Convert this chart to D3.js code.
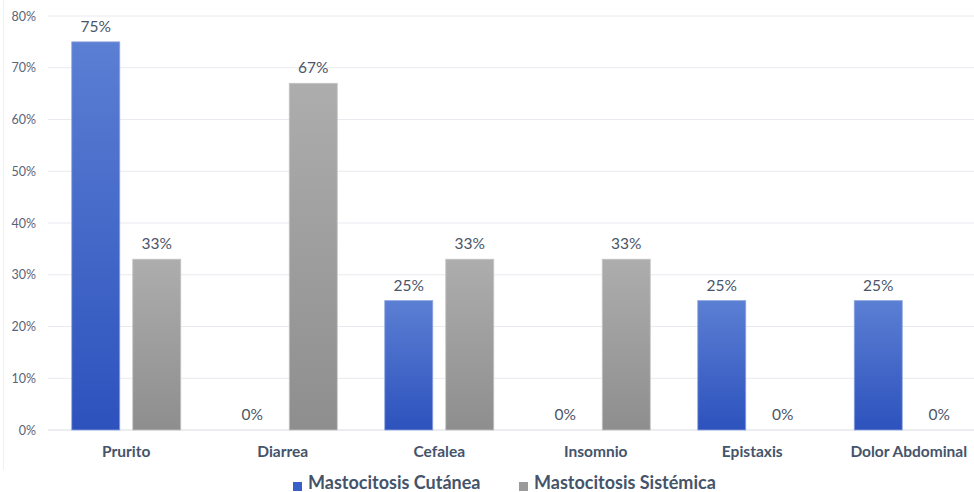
<!DOCTYPE html>
<html>
<head>
<meta charset="utf-8">
<script src="https://cdn.jsdelivr.net/npm/d3@7"></script>
<style>
  html, body { margin: 0; padding: 0; background: #fff; }
  svg { display: block; font-family: Lato, "Open Sans", sans-serif; }
</style>
</head>
<body>
<svg id="chart" width="974" height="492"></svg>
<script>
const categories = ["Prurito", "Diarrea", "Cefalea", "Insomnio", "Epistaxis", "Dolor Abdominal"];
const seriesNames = ["Mastocitosis Cutánea", "Mastocitosis Sistémica"];
const cutanea = [75, 0, 25, 0, 25, 25];
const sistemica = [33, 67, 33, 33, 0, 0];
const yTicks = [0, 10, 20, 30, 40, 50, 60, 70, 80];

(function () {
  const series = [cutanea, sistemica];
  const rows = categories.map((c, i) => ({ cat: c, values: series.map((s, k) => ({ key: k, v: s[i] })) }));

  const svg = d3.select("#chart");
  const plotLeft = 48, plotRight = 987, plotTop = 16, plotBottom = 430;

  const x0 = d3.scaleBand().domain(categories).range([plotLeft, plotRight]).paddingInner(0.3035).paddingOuter(0.15175);
  const x1 = d3.scaleBand().domain([0, 1]).range([0, x0.bandwidth()]).paddingInner(0.213).paddingOuter(0);
  const y = d3.scaleLinear().domain([0, 80]).range([plotBottom, plotTop]);

  // vertical gradients for the bar fills
  const defs = svg.append("defs");
  const grads = [
    { id: "gBlue", c0: "#5b7fd3", c1: "#2d52bd" },
    { id: "gGray", c0: "#adadad", c1: "#8e8e8e" }
  ];
  grads.forEach(g => {
    const lgd = defs.append("linearGradient").attr("id", g.id)
      .attr("x1", 0).attr("y1", 0).attr("x2", 0).attr("y2", 1);
    lgd.append("stop").attr("offset", "0%").attr("stop-color", g.c0);
    lgd.append("stop").attr("offset", "100%").attr("stop-color", g.c1);
  });
  const fills = ["url(#gBlue)", "url(#gGray)"];
  const strokes = ["#8ea5e0", "#c4c4c4"];
  const swatch = ["#3a5fc8", "#9a9a9a"];

  // faint chart-area edge on the left
  svg.append("line").attr("x1", 3.5).attr("x2", 3.5).attr("y1", 0).attr("y2", 470)
    .attr("stroke", "#f0f0f3").attr("stroke-width", 1);

  // gridlines
  svg.append("g").selectAll("line").data(yTicks).join("line")
    .attr("x1", 48).attr("x2", 974)
    .attr("y1", d => y(d)).attr("y2", d => y(d))
    .attr("stroke", d => d === 0 ? "#d9dbe3" : "#e9eaf0").attr("stroke-width", 1);

  // y axis labels
  const yAxis = d3.axisLeft(y).tickValues(yTicks).tickFormat(d => d + "%").tickSize(0).tickPadding(0);
  const yg = svg.append("g").attr("transform", "translate(36,0)").call(yAxis);
  yg.select(".domain").remove();
  yg.selectAll("text").attr("font-size", 12.5).attr("fill", "#5a6478").attr("font-family", "Lato, sans-serif");

  // bars
  const groups = svg.append("g").selectAll("g").data(rows).join("g")
    .attr("transform", d => `translate(${x0(d.cat)},0)`);

  groups.selectAll("rect").data(d => d.values.filter(v => v.v > 0)).join("rect")
    .attr("x", d => x1(d.key))
    .attr("y", d => y(d.v))
    .attr("width", x1.bandwidth())
    .attr("height", d => y(0) - y(d.v))
    .attr("fill", d => fills[d.key])
    .attr("stroke", d => strokes[d.key])
    .attr("stroke-width", 0.8);

  groups.selectAll("text").data(d => d.values).join("text")
    .attr("x", d => x1(d.key) + x1.bandwidth() / 2)
    .attr("y", d => y(d.v) - 10)
    .attr("text-anchor", "middle")
    .attr("font-size", 15.5)
    .attr("fill", "#4a5568")
    .text(d => d.v + "%");

  // category axis
  const xAxis = d3.axisBottom(x0).tickSize(0).tickPadding(0);
  const xg = svg.append("g").attr("transform", `translate(0,${plotBottom + 16})`).call(xAxis);
  xg.select(".domain").remove();
  xg.selectAll("text").attr("font-size", 15.5).attr("font-weight", "bold")
    .attr("fill", "#44546a").attr("font-family", "Lato, sans-serif");

  // legend
  const legendX = [293, 519];
  const lg = svg.append("g").selectAll("g").data(seriesNames).join("g")
    .attr("transform", (d, i) => `translate(${legendX[i]},476)`);
  lg.append("rect").attr("x", 0).attr("y", 6).attr("width", 9).attr("height", 9)
    .attr("fill", (d, i) => swatch[i]);
  lg.append("text").attr("x", 15).attr("y", 13)
    .attr("font-size", 18).attr("font-weight", "bold").attr("fill", "#44546a")
    .text(d => d);
})();
</script>
</body>
</html>
